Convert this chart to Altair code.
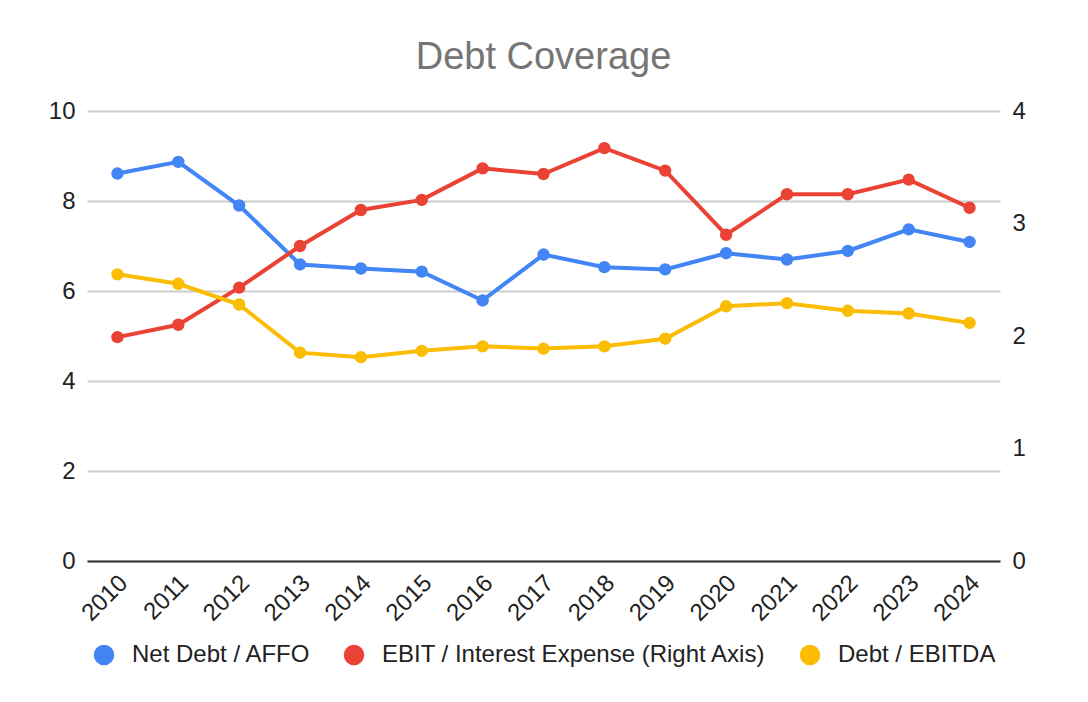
import altair as alt
import pandas as pd

years = [str(y) for y in range(2010, 2025)]
net_debt_affo = [8.61, 8.87, 7.90, 6.59, 6.50, 6.43, 5.79, 6.81, 6.53, 6.48, 6.84, 6.70, 6.89, 7.37, 7.09]
ebit_interest = [1.99, 2.10, 2.43, 2.80, 3.12, 3.21, 3.49, 3.44, 3.67, 3.47, 2.90, 3.26, 3.26, 3.39, 3.14]
debt_ebitda = [6.37, 6.16, 5.70, 4.63, 4.53, 4.67, 4.77, 4.72, 4.77, 4.94, 5.66, 5.73, 5.56, 5.50, 5.29]

series_names = ["Net Debt / AFFO", "EBIT / Interest Expense (Right Axis)", "Debt / EBITDA"]
series_colors = ["#4285F4", "#EA4335", "#FBBC04"]

FONT = "Liberation Sans"


def frame(vals, name):
    return pd.DataFrame({"year": years, "value": vals, "series": name})


x_enc = alt.X(
    "year:O",
    scale=alt.Scale(type="point", padding=0.5),
    axis=alt.Axis(
        title=None, labelAngle=-45, labelAlign="right", labelBaseline="middle",
        labelFontSize=24, labelColor="#222222", labelFont=FONT, ticks=False,
        domain=True, domainColor="#333333", domainWidth=2, grid=False,
        labelPadding=18, labelOffset=6,
    ),
)

color_enc = alt.Color(
    "series:N",
    scale=alt.Scale(domain=series_names, range=series_colors),
    legend=alt.Legend(
        title=None, orient="none", direction="horizontal", columns=3,
        legendX=5, legendY=532, symbolType="circle", symbolSize=420,
        symbolStrokeWidth=0, labelFontSize=24, labelFont=FONT, labelColor="#222222",
        labelOffset=16, columnPadding=31, labelLimit=600,
    ),
)

point_def = alt.OverlayMarkDef(filled=True, size=154)

left_axis = alt.Axis(
    title=None, values=[0, 2, 4, 6, 8, 10], grid=True, gridColor="#cccccc", gridWidth=2,
    domain=False, ticks=False, labelFontSize=24, labelFont=FONT, labelColor="#222222",
    labelPadding=12,
)
right_axis = alt.Axis(
    title=None, orient="right", values=[0, 1, 2, 3, 4], grid=False,
    domain=False, ticks=False, labelFontSize=24, labelFont=FONT, labelColor="#222222",
    labelPadding=12,
)

blue = alt.Chart(frame(net_debt_affo, series_names[0])).mark_line(strokeWidth=4, point=point_def).encode(
    x=x_enc,
    y=alt.Y("value:Q", scale=alt.Scale(domain=[0, 10]), axis=left_axis),
    color=color_enc,
)
red = alt.Chart(frame(ebit_interest, series_names[1])).mark_line(strokeWidth=4, point=point_def).encode(
    x=x_enc,
    y=alt.Y("value:Q", scale=alt.Scale(domain=[0, 4]), axis=right_axis),
    color=color_enc,
)
yellow = alt.Chart(frame(debt_ebitda, series_names[2])).mark_line(strokeWidth=4, point=point_def).encode(
    x=x_enc,
    y=alt.Y("value:Q", scale=alt.Scale(domain=[0, 10]), axis=None),
    color=color_enc,
)

chart = (
    alt.layer(blue, red, yellow)
    .resolve_scale(y="independent")
    .properties(
        width=913,
        height=450,
        autosize=alt.AutoSizeParams(type="none"),
        padding={"left": 79, "top": 103, "right": 60, "bottom": 120},
        view=alt.ViewBackground(strokeWidth=0, strokeOpacity=0),
        title=alt.TitleParams(
            "Debt Coverage", fontSize=38, color="#757575", font=FONT,
            fontWeight="normal", anchor="middle", offset=22,
        ),
    )
    .configure_view(strokeWidth=0, stroke="transparent", strokeOpacity=0)
    .configure_axisY(domain=False)
    .configure(background="white")
)

chart.save("out.html", embed_options={"renderer": "svg", "actions": False})
